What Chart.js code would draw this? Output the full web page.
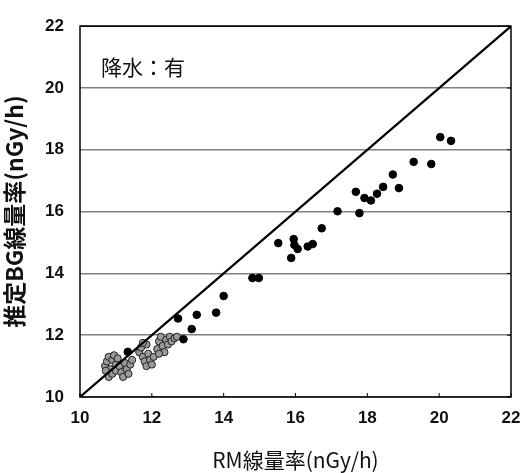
<!DOCTYPE html>
<html>
<head>
<meta charset="utf-8">
<script src="https://cdn.jsdelivr.net/npm/chart.js@4"></script>
<style>
  html, body { margin:0; padding:0; background:#fff; }
  #wrap { width:524px; height:473px; }
</style>
</head>
<body>
<div id="wrap"><canvas id="chart" width="524" height="473"></canvas></div>
<script>
// 散布図データ（読み取り値）
const rmRate = [20.03, 20.33, 19.29, 19.78, 18.71, 18.88, 18.44, 18.27, 17.68, 17.92,
                18.10, 17.78, 17.17, 16.73, 15.52, 15.95, 15.97, 16.06, 15.88, 16.34,
                16.48, 14.80, 14.98, 14.00, 13.79, 13.25, 12.73, 13.11, 12.88, 11.33];
const bgRate = [18.41, 18.29, 17.61, 17.54, 17.20, 16.76, 16.80, 16.58, 16.64, 16.44,
                16.36, 15.95, 16.01, 15.46, 14.98, 15.11, 14.92, 14.79, 14.50, 14.87,
                14.95, 13.85, 13.85, 13.27, 12.73, 12.66, 12.54, 12.20, 11.87, 11.46];

// 密集部分（灰色の塊）
const clusterRm = [10.70, 10.75, 10.80, 10.85, 10.90, 10.95, 11.00, 10.80, 10.90, 11.00,
                   11.05, 11.10, 11.15, 11.20, 11.25, 11.30, 11.40, 11.45, 11.35, 10.72,
                   11.65, 11.70, 11.75, 11.80, 11.85, 11.90, 11.85, 11.95, 12.00, 12.05, 11.75,
                   12.15, 12.20, 12.25, 12.30, 12.35, 12.40, 12.45, 12.50, 12.20, 12.55,
                   12.63, 12.70];
const clusterBg = [11.00, 11.15, 11.30, 10.90, 11.20, 11.35, 11.05, 10.65, 10.75, 10.85,
                   11.25, 11.00, 10.80, 10.65, 11.10, 10.90, 11.05, 11.20, 10.75, 10.85,
                   11.45, 11.60, 11.30, 11.15, 11.70, 11.40, 11.00, 11.20, 11.05, 11.30, 11.75,
                   11.55, 11.80, 11.95, 11.65, 11.45, 11.85, 11.70, 11.95, 11.40, 11.80,
                   11.90, 11.95];

const axisMin = 10, axisMax = 22;
const tickValues = [10, 12, 14, 16, 18, 20, 22];
const lineX = [10, 22];
const lineY = [10, 22];

const toPts = (xs, ys) => xs.map((x, i) => ({ x, y: ys[i] }));

// 枠線・内向き目盛り・注記
const framePlugin = {
  id: 'frame',
  afterDatasetsDraw(chart) {
    const { ctx, chartArea: a, scales } = chart;
    ctx.save();
    ctx.strokeStyle = '#000';
    ctx.lineWidth = 1.5;
    ctx.strokeRect(a.left, a.top, a.right - a.left, a.bottom - a.top);
    ctx.lineWidth = 1;
    tickValues.forEach(v => {
      const px = scales.x.getPixelForValue(v);
      ctx.beginPath(); ctx.moveTo(px, a.bottom); ctx.lineTo(px, a.bottom - 4); ctx.stroke();
      const py = scales.y.getPixelForValue(v);
      ctx.beginPath(); ctx.moveTo(a.right, py); ctx.lineTo(a.right - 4, py); ctx.stroke();
    });
    ctx.fillStyle = '#111';
    ctx.font = '21px "Noto Sans CJK JP", sans-serif';
    ctx.textBaseline = 'middle';
    ctx.fillText('降水：有', a.left + 21, a.top + 41);
    ctx.restore();
  }
};

new Chart(document.getElementById('chart').getContext('2d'), {
  type: 'scatter',
  data: {
    datasets: [
      {
        type: 'line',
        data: toPts(lineX, lineY),
        borderColor: '#000',
        borderWidth: 2.2,
        pointRadius: 0,
        fill: false,
        order: 0
      },
      {
        data: toPts(clusterRm, clusterBg),
        backgroundColor: '#9a9a9a',
        borderColor: '#222',
        borderWidth: 1,
        pointRadius: 3.6,
        order: 2
      },
      {
        data: toPts(rmRate, bgRate),
        backgroundColor: '#000',
        borderColor: '#000',
        pointRadius: 3.8,
        order: 1
      }
    ]
  },
  options: {
    responsive: false,
    animation: false,
    layout: { padding: { left: 0, right: 13, top: 19, bottom: 0 } },
    plugins: { legend: { display: false }, tooltip: { enabled: false } },
    scales: {
      x: {
        type: 'linear',
        min: axisMin, max: axisMax,
        afterBuildTicks: s => { s.ticks = tickValues.map(v => ({ value: v })); },
        afterFit: s => { s.height = 76; },
        grid: { display: false },
        border: { display: false },
        ticks: {
          color: '#111',
          padding: 3,
          maxRotation: 0,
          font: { family: '"Liberation Sans", Arial, sans-serif', size: 17, weight: 'bold' }
        },
        title: {
          display: true,
          text: 'RM線量率(nGy/h)',
          color: '#111',
          padding: { top: 2, bottom: 0 },
          font: { family: '"Noto Sans CJK JP", sans-serif', size: 21 }
        }
      },
      y: {
        type: 'linear',
        min: axisMin, max: axisMax,
        afterBuildTicks: s => { s.ticks = tickValues.map(v => ({ value: v })); },
        afterFit: s => { s.width = 80; },
        grid: {
          color: '#808080',
          lineWidth: 1.5,
          drawTicks: false
        },
        border: { display: false },
        ticks: {
          color: '#111',
          padding: 16,
          font: { family: '"Liberation Sans", Arial, sans-serif', size: 17, weight: 'bold' }
        },
        title: {
          display: true,
          text: '推定BG線量率(nGy/h)',
          color: '#111',
          padding: { top: 0, bottom: 0 },
          font: { family: '"Noto Sans CJK JP", sans-serif', size: 23, weight: 'bold' }
        }
      }
    }
  },
  plugins: [framePlugin]
});
</script>
</body>
</html>
